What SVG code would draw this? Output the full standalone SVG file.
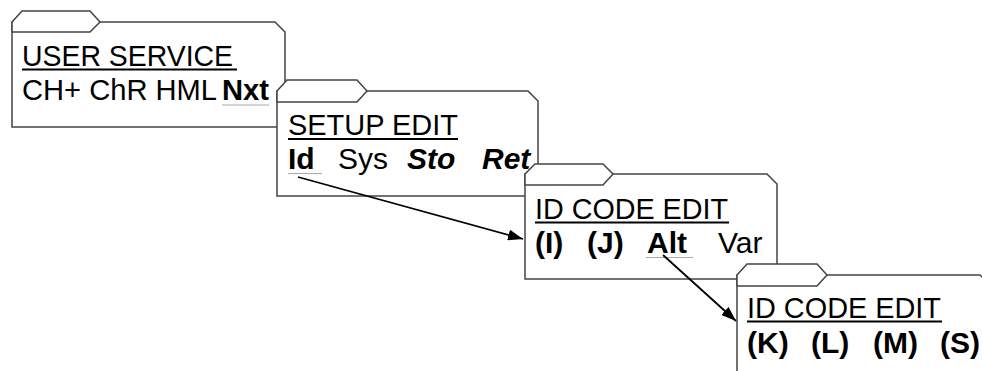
<svg xmlns="http://www.w3.org/2000/svg" width="982" height="371" viewBox="0 0 982 371">
<defs>
<style>
.f{fill:#fff;stroke:#444;stroke-width:1.5;stroke-linejoin:miter}
.t{font-family:"Liberation Sans",Arial,sans-serif;font-size:30px;fill:#000}
.b{font-weight:bold}
.bi{font-weight:bold;font-style:italic}
.ul{stroke:#000;stroke-width:2}
.ul2{stroke:#aaa;stroke-width:1.2}
.c{stroke:#000;stroke-width:1.8;fill:none;marker-end:url(#ah)}
</style>
<marker id="ah" viewBox="0 0 15 11" refX="15" refY="5.5" markerWidth="15" markerHeight="11" markerUnits="userSpaceOnUse" orient="auto"><path d="M0,0 L15,5.5 L0,11 z" fill="#000"/></marker>
</defs>
<g id="node1">
<path class="f" d="M12,22 L275,22 L285,32 L285,127 L12,127 Z"/>
<path class="f" d="M12,22 L22,11 L90,11 L100,22 L90,32 L12,32 Z"/>
<text class="t" x="22" y="65.5" textLength="211" lengthAdjust="spacingAndGlyphs">USER SERVICE</text>
<line class="ul" x1="22" y1="69.5" x2="237" y2="69.5"/>
<text class="t" y="100"><tspan x="22" textLength="195" lengthAdjust="spacingAndGlyphs">CH+ ChR HML</tspan><tspan class="b" x="222" textLength="47" lengthAdjust="spacingAndGlyphs">Nxt</tspan></text>
<line class="ul2" x1="222" y1="105" x2="269" y2="105"/>
</g>
<g id="node2">
<path class="f" d="M277,91 L528,91 L538,101 L538,196 L277,196 Z"/>
<path class="f" d="M277,91 L287,80 L357,80 L367,91 L357,102 L277,102 Z"/>
<text class="t" x="288" y="134.5" textLength="170" lengthAdjust="spacingAndGlyphs">SETUP EDIT</text>
<line class="ul" x1="288" y1="139" x2="458" y2="139"/>
<text class="t" y="169"><tspan class="b" x="288">Id</tspan><tspan x="338">Sys</tspan><tspan class="bi" x="407">Sto</tspan><tspan class="bi" x="482">Ret</tspan></text>
<line class="ul2" x1="288" y1="173.5" x2="322" y2="173.5"/>
</g>
<g id="node3">
<path class="f" d="M525,174 L767,174 L777,184 L777,279 L525,279 Z"/>
<path class="f" d="M525,174 L535,164 L603,164 L613,174 L603,185 L525,185 Z"/>
<text class="t" x="535" y="218.5" textLength="193" lengthAdjust="spacingAndGlyphs">ID CODE EDIT</text>
<line class="ul" x1="535" y1="222.5" x2="729" y2="222.5"/>
<text class="t" y="253"><tspan class="b" x="535">(I)</tspan><tspan class="b" x="587">(J)</tspan><tspan class="b" x="647">Alt</tspan><tspan x="718">Var</tspan></text>
<line class="ul2" x1="646" y1="257.5" x2="693" y2="257.5"/>
</g>
<g id="node4">
<path class="f" d="M737,275 L980,275 L990,285 L990,390 L737,390 Z"/>
<path class="f" d="M737,275 L747,264 L817,264 L827,275 L817,286 L737,286 Z"/>
<text class="t" x="747" y="318" textLength="194" lengthAdjust="spacingAndGlyphs">ID CODE EDIT</text>
<line class="ul" x1="747" y1="321.5" x2="942" y2="321.5"/>
<text class="t" y="353"><tspan class="b" x="747">(K)</tspan><tspan class="b" x="811">(L)</tspan><tspan class="b" x="873">(M)</tspan><tspan class="b" x="940">(S)</tspan></text>
</g>
<g id="connectors">
<line class="c" x1="298" y1="177" x2="523" y2="239"/>
<line class="c" x1="663" y1="255" x2="736" y2="321"/>
</g>
</svg>
